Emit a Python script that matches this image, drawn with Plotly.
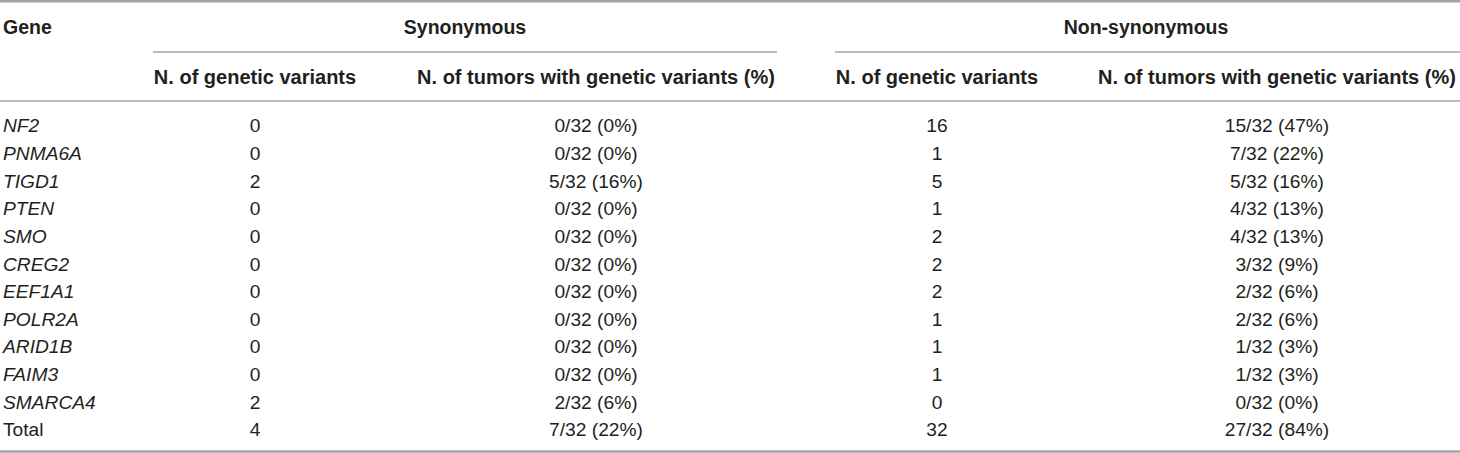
import plotly.graph_objects as go

# ---- data ----
genes = ["NF2", "PNMA6A", "TIGD1", "PTEN", "SMO", "CREG2", "EEF1A1",
         "POLR2A", "ARID1B", "FAIM3", "SMARCA4", "Total"]
syn_variants = [0, 0, 2, 0, 0, 0, 0, 0, 0, 0, 2, 4]
syn_tumors = ["0/32 (0%)", "0/32 (0%)", "5/32 (16%)", "0/32 (0%)", "0/32 (0%)",
              "0/32 (0%)", "0/32 (0%)", "0/32 (0%)", "0/32 (0%)", "0/32 (0%)",
              "2/32 (6%)", "7/32 (22%)"]
nonsyn_variants = [16, 1, 5, 1, 2, 2, 2, 1, 1, 1, 0, 32]
nonsyn_tumors = ["15/32 (47%)", "7/32 (22%)", "5/32 (16%)", "4/32 (13%)",
                 "4/32 (13%)", "3/32 (9%)", "2/32 (6%)", "2/32 (6%)",
                 "1/32 (3%)", "1/32 (3%)", "0/32 (0%)", "27/32 (84%)"]
group_headers = ["Synonymous", "Non-synonymous"]
sub_headers = ["N. of genetic variants", "N. of tumors with genetic variants (%)"]

# ---- layout constants (pixels) ----
W, H = 1460, 453
FONT = "Liberation Sans, Arial, Helvetica, sans-serif"
TXT = "#231f20"
LINE = "#a3a3a3"
gene_x = 3
col_x = [255, 596, 937, 1277]
group_x = [465, 1146]
group_span = [(153, 777), (835, 1460)]
y_head1, y_head2 = 29, 79
y_row0, row_h = 127.5, 27.65

row_y = [y_row0 + i * row_h for i in range(len(genes))]
gene_text = [f"<i>{g}</i>" if g != "Total" else g for g in genes]

fig = go.Figure()

def text_trace(xs, ys, texts, pos, size, bold=False):
    if bold:
        texts = [f"<b>{t}</b>" for t in texts]
    fig.add_trace(go.Scatter(
        x=xs, y=ys, text=texts, mode="text", textposition=pos,
        textfont=dict(family=FONT, size=size, color=TXT),
        hoverinfo="skip", showlegend=False, cliponaxis=False))

# headers
text_trace([gene_x], [y_head1], ["Gene"], "middle right", 19.5, bold=True)
text_trace(group_x, [y_head1] * 2, group_headers, "middle center", 19.5, bold=True)
text_trace(col_x, [y_head2] * 4, sub_headers * 2, "middle center", 20, bold=True)

# body
text_trace([gene_x] * len(genes), row_y, gene_text, "middle right", 19.2)
text_trace([col_x[0]] * len(genes), row_y, [str(v) for v in syn_variants], "middle center", 19.2)
text_trace([col_x[1]] * len(genes), row_y, syn_tumors, "middle center", 19.2)
text_trace([col_x[2]] * len(genes), row_y, [str(v) for v in nonsyn_variants], "middle center", 19.2)
text_trace([col_x[3]] * len(genes), row_y, nonsyn_tumors, "middle center", 19.2)

# rules
shapes = [
    dict(type="line", x0=0, x1=W, y0=1.2, y1=1.2, line=dict(color=LINE, width=2.4)),
    dict(type="line", x0=0, x1=W, y0=101, y1=101, line=dict(color=LINE, width=1.4)),
    dict(type="line", x0=0, x1=W, y0=451.5, y1=451.5, line=dict(color=LINE, width=2.4)),
]
for a, b in group_span:
    shapes.append(dict(type="line", x0=a, x1=b, y0=52, y1=52,
                       line=dict(color=LINE, width=1.4)))

fig.update_layout(
    width=W, height=H, margin=dict(l=0, r=0, t=0, b=0),
    paper_bgcolor="white", plot_bgcolor="white",
    xaxis=dict(range=[0, W], visible=False, fixedrange=True),
    yaxis=dict(range=[H, 0], visible=False, fixedrange=True),
    shapes=shapes, showlegend=False,
)
for s in fig.layout.shapes:
    s.xref = "x"
    s.yref = "y"

fig.write_html("out.html", config={"displayModeBar": False},
               post_script="document.body.style.margin='0';document.body.style.overflow='hidden';")
